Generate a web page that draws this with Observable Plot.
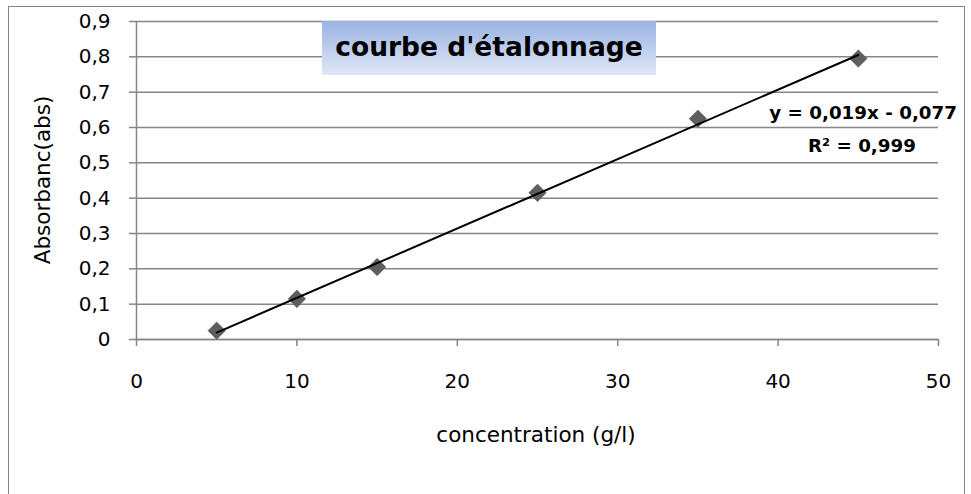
<!DOCTYPE html>
<html>
<head>
<meta charset="utf-8">
<script src="https://cdn.jsdelivr.net/npm/d3@7"></script>
<script src="https://cdn.jsdelivr.net/npm/@observablehq/plot@0.6"></script>
<style>
  html, body { margin: 0; padding: 0; background: #fff; }
  #wrap { position: relative; width: 971px; height: 494px; overflow: hidden; font-family: "DejaVu Sans", sans-serif; }
  #frame { position: absolute; left: 8px; top: 6px; width: 957px; height: 520px; border: 1.5px solid #868686; box-sizing: border-box; pointer-events: none; }
  #title { position: absolute; left: 322px; top: 21px; width: 334px; height: 54px;
           background: linear-gradient(to bottom, #9ab3e2, #dfe7f6); }
  #title span { position: absolute; left: 50%; top: 13px; transform: translateX(-50%);
           font-weight: bold; font-size: 26.5px; line-height: 1; color: #000; white-space: nowrap; }
  .ann { position: absolute; font-weight: bold; font-size: 18.3px; line-height: 1; color: #000; white-space: nowrap; }
  .axt { position: absolute; font-size: 21.5px; line-height: 1; color: #000; white-space: nowrap; }
</style>
</head>
<body>
<div id="wrap">
  <div id="chart"></div>
  <div id="frame"></div>
  <div id="title"><span>courbe d'étalonnage</span></div>
  <div class="ann" style="right:14px; top:104px;">y = 0,019x - 0,077</div>
  <div class="ann" style="left:862px; top:137px; transform:translateX(-50%);">R² = 0,999</div>
  <div class="axt" style="left:536px; top:424px; transform:translateX(-50%);">concentration (g/l)</div>
  <div class="axt" style="left:43px; top:180px; transform:translate(-50%,-50%) rotate(-90deg);">Absorbanc(abs)</div>
</div>
<script>
const concentration = [5, 10, 15, 25, 35, 45];
const absorbance = [0.025, 0.115, 0.205, 0.415, 0.625, 0.795];
const xTicks = [0, 10, 20, 30, 40, 50];
const yTicks = [0, 0.1, 0.2, 0.3, 0.4, 0.5, 0.6, 0.7, 0.8, 0.9];

const data = concentration.map((c, i) => ({x: c, y: absorbance[i]}));
const fmt = d => String(+d.toFixed(1)).replace(".", ",");

const chart = Plot.plot({
  width: 971,
  height: 494,
  marginLeft: 136,
  marginRight: 33,
  marginTop: 21,
  marginBottom: 155,
  style: {fontFamily: "'DejaVu Sans', sans-serif", fontSize: "20px", background: "transparent"},
  x: {domain: [0, 50]},
  y: {domain: [0, 0.9]},
  marks: [
    Plot.gridY(yTicks, {stroke: "#868686", strokeOpacity: 1, strokeWidth: 1.5}),
    Plot.ruleX([0], {stroke: "#868686", strokeWidth: 1.5, y1: 0.9, y2: 0}),
    Plot.ruleY([0], {stroke: "#868686", strokeWidth: 1.5}),
    Plot.axisY(yTicks, {tickFormat: fmt, tickSize: 7, tickPadding: 19, stroke: "#868686", fill: "black", strokeWidth: 1.5, label: null, fontSize: 20}),
    Plot.axisX(xTicks, {tickSize: 7, tickPadding: 27, stroke: "#868686", fill: "black", strokeWidth: 1.5, label: null, fontSize: 20}),
    Plot.dot(data, {x: "x", y: "y", symbol: "square", rotate: 45, r: 7, fill: "#5e5e5e", stroke: "#5e5e5e", strokeWidth: 0.5}),
    Plot.linearRegressionY(data, {x: "x", y: "y", ci: 0, stroke: "black", strokeWidth: 2})
  ]
});
document.getElementById("chart").appendChild(chart);
</script>
</body>
</html>
